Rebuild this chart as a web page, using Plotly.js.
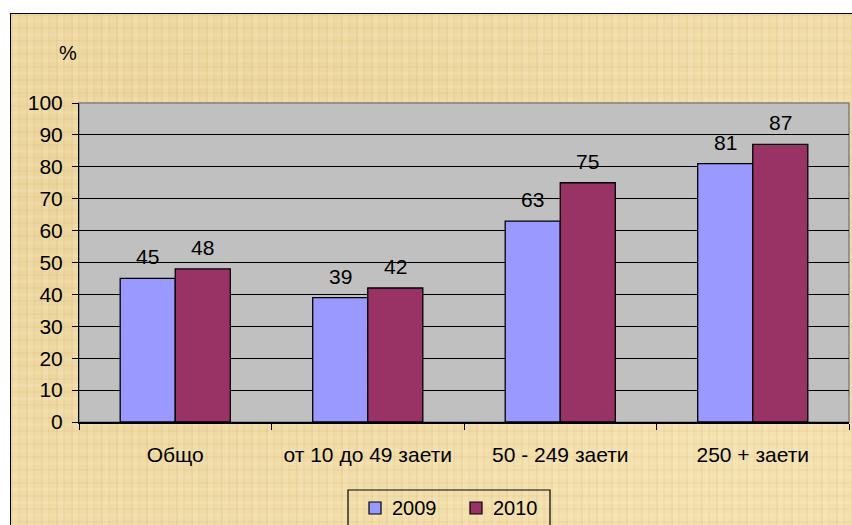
<!DOCTYPE html>
<html>
<head>
<meta charset="utf-8">
<script src="https://cdn.plot.ly/plotly-3.0.1.min.js"></script>
<style>
  html, body { margin:0; padding:0; background:#ffffff; }
  #wrap { position:relative; width:852px; height:525px; overflow:hidden; background:#ffffff; }
  #bg {
    position:absolute; left:10px; top:13px; width:900px; height:600px;
    border:1px solid #000;
    background-color:#F1DCA8;
    background-image:
      repeating-linear-gradient(90deg, rgba(190,160,90,0.10) 0px, rgba(190,160,90,0.10) 2px, rgba(255,245,215,0.10) 2px, rgba(255,245,215,0.10) 7px, rgba(200,170,100,0.08) 7px, rgba(200,170,100,0.08) 9px, transparent 9px, transparent 15px),
      repeating-linear-gradient(0deg, rgba(190,160,90,0.09) 0px, rgba(190,160,90,0.09) 2px, transparent 2px, transparent 6px, rgba(255,245,215,0.12) 6px, rgba(255,245,215,0.12) 9px, transparent 9px, transparent 13px),
      radial-gradient(ellipse at 20% 30%, rgba(215,185,110,0.25), transparent 60%),
      radial-gradient(ellipse at 80% 70%, rgba(255,240,200,0.25), transparent 60%);
  }
  #chart { position:absolute; left:0; top:0; width:852px; height:525px; }
</style>
</head>
<body>
<div id="wrap">
  <div id="bg"></div>
  <div id="chart"></div>
</div>
<script>
const categories = ["Общо", "от 10 до 49 заети", "50 - 249 заети", "250 + заети"];
const series2009 = [45, 39, 63, 81];
const series2010 = [48, 42, 75, 87];
const seriesNames = ["2009", "2010"];
const yTicks = [0, 10, 20, 30, 40, 50, 60, 70, 80, 90, 100];

const FONT = "Liberation Sans, Arial, sans-serif";
const colors = ["#9999FF", "#993366"];

const W = 852, H = 525;
const M = { l: 79, r: 3, t: 103, b: 103 };
const PW = W - M.l - M.r, PH = H - M.t - M.b;
// pixel -> paper helpers
const px = v => (v - M.l) / PW;
const py = v => (H - M.b - v) / PH;

const traces = [series2009, series2010].map((vals, i) => ({
  type: "bar",
  name: seriesNames[i],
  x: categories,
  y: vals,
  marker: { color: colors[i], line: { color: "#000000", width: 1.3 } },
  hoverinfo: "none",
  showlegend: false
}));

const offsets = [-0.143, 0.143];
const annotations = [];
[series2009, series2010].forEach((vals, i) => {
  vals.forEach((v, j) => {
    annotations.push({
      x: j + offsets[i], y: v, xref: "x", yref: "y",
      text: String(v), showarrow: false,
      yanchor: "bottom", yshift: 8,
      font: { family: FONT, size: 21, color: "#000" }
    });
  });
});
annotations.push({
  xref: "paper", yref: "paper", x: px(68), y: py(53),
  text: "%", showarrow: false, xanchor: "center", yanchor: "middle",
  font: { family: FONT, size: 20, color: "#000" }
});

// manual legend
const legendItems = [
  { sx: 369, tx: 390 },
  { sx: 470, tx: 491 }
];
const shapes = [
  { type: "rect", xref: "paper", yref: "paper", x0: 0, x1: 1, y0: 0, y1: 1,
    line: { color: "#808080", width: 1.5 }, layer: "below" },
  { type: "rect", xref: "paper", yref: "paper", x0: px(348), x1: px(550), y0: py(540), y1: py(490),
    line: { color: "#000", width: 1.2 }, fillcolor: "rgba(0,0,0,0)" }
];
legendItems.forEach((it, i) => {
  shapes.push({ type: "rect", xref: "paper", yref: "paper",
    x0: px(it.sx), x1: px(it.sx + 12), y0: py(514), y1: py(502),
    line: { color: "#000", width: 1.2 }, fillcolor: colors[i] });
  annotations.push({ xref: "paper", yref: "paper", x: px(it.tx), y: py(508),
    text: seriesNames[i], showarrow: false, xanchor: "left", yanchor: "middle",
    font: { family: FONT, size: 20, color: "#000" } });
});

const layout = {
  width: W, height: H,
  margin: { l: M.l, r: M.r, t: M.t, b: M.b, pad: 0 },
  paper_bgcolor: "rgba(0,0,0,0)",
  plot_bgcolor: "#C0C0C0",
  barmode: "group",
  bargap: 0.428,
  bargroupgap: 0,
  font: { family: FONT, size: 21, color: "#000" },
  showlegend: false,
  xaxis: {
    type: "category",
    automargin: false,
    tickson: "boundaries",
    ticks: "outside", ticklen: 6, tickcolor: "#000", tickwidth: 1,
    showline: true, linecolor: "#000", linewidth: 1.5,
    showgrid: false, zeroline: false,
    tickfont: { family: FONT, size: 21, color: "#000" },
    ticklabelstandoff: 13,
    fixedrange: true
  },
  yaxis: {
    automargin: false,
    range: [0, 100],
    tickvals: yTicks,
    ticktext: yTicks.map(String),
    ticks: "outside", ticklen: 6, tickcolor: "#000", tickwidth: 1,
    showline: true, linecolor: "#000", linewidth: 1,
    showgrid: true, gridcolor: "#000", gridwidth: 1,
    zeroline: false,
    tickfont: { family: FONT, size: 21, color: "#000" },
    ticklabelstandoff: 5,
    fixedrange: true
  },
  shapes: shapes,
  annotations: annotations
};

Plotly.newPlot("chart", traces, layout, { staticPlot: true, displayModeBar: false });
</script>
</body>
</html>
